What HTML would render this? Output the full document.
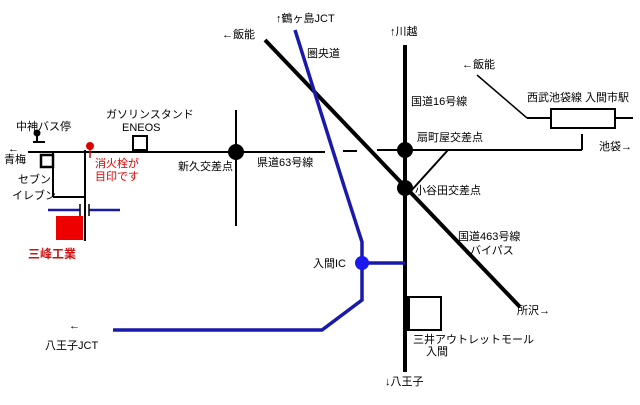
<!DOCTYPE html>
<html><head><meta charset="utf-8"><style>
html,body{margin:0;padding:0;background:#fff}
svg text{font-family:"Liberation Sans","Noto Sans CJK JP",sans-serif;font-size:11px;fill:#000}
</style></head><body>
<svg width="640" height="400" viewBox="0 0 640 400" xmlns="http://www.w3.org/2000/svg">
<rect width="640" height="400" fill="#fff"/>
<g stroke="#000" fill="none">
<line x1="28" y1="152" x2="325" y2="152" stroke-width="2"/>
<line x1="343" y1="151" x2="357" y2="151" stroke-width="2"/>
<line x1="377" y1="150" x2="582" y2="150" stroke-width="2"/>
<line x1="582" y1="134" x2="582" y2="150" stroke-width="2"/>
<line x1="236" y1="110" x2="236" y2="226" stroke-width="2"/>
<line x1="405" y1="45" x2="405" y2="372" stroke-width="4"/>
<line x1="265" y1="40" x2="520" y2="307" stroke-width="4"/>
<line x1="448" y1="150" x2="410" y2="192" stroke-width="2"/>
<line x1="477" y1="75" x2="527" y2="118" stroke-width="1.5"/>
<line x1="527" y1="118" x2="551" y2="118" stroke-width="2"/>
<rect x="551" y="109" width="64" height="19" stroke-width="2"/>
<line x1="615" y1="118" x2="633" y2="118" stroke-width="2"/>
<rect x="408" y="297" width="33" height="33" stroke-width="2"/>
<line x1="408" y1="297" x2="408" y2="330" stroke-width="4"/>
<rect x="133" y="136" width="14" height="14" stroke-width="2"/>
<rect x="41" y="155" width="12" height="12" stroke-width="2.5"/>
<line x1="53" y1="152" x2="53" y2="197" stroke-width="2"/>
<line x1="53" y1="197" x2="85" y2="197" stroke-width="2"/>
<line x1="85" y1="150" x2="85" y2="241" stroke-width="2"/>
<line x1="33" y1="142" x2="45" y2="142" stroke-width="2"/>
<line x1="37" y1="134" x2="37" y2="142" stroke-width="2"/>
</g>
<circle cx="37" cy="133" r="3.5" fill="#000"/>
<circle cx="236" cy="152" r="8" fill="#000"/>
<circle cx="405" cy="150" r="8" fill="#000"/>
<circle cx="405" cy="188" r="8" fill="#000"/>
<g stroke="#1a1aaa" fill="none" stroke-width="3.5">
<polyline points="295,30 344,186 362,242 362,300 322,330 113,330"/>
<line x1="362" y1="263" x2="405" y2="263"/>
<line x1="48" y1="210" x2="80" y2="210" stroke-width="2.5"/>
<line x1="89" y1="210" x2="120" y2="210" stroke-width="2.5"/>
</g>
<circle cx="362" cy="263" r="7" fill="#1a1aee"/>
<line x1="80" y1="204" x2="80" y2="216" stroke="#000" stroke-width="1.5"/>
<line x1="89" y1="204" x2="89" y2="216" stroke="#000" stroke-width="1.5"/>
<rect x="56" y="216" width="27" height="24" fill="#ee0000"/>
<line x1="90" y1="148" x2="90" y2="158" stroke="#dd0000" stroke-width="1.5"/>
<circle cx="90" cy="146" r="4" fill="#dd0000"/>
<text x="16" y="130">中神バス停</text>
<text x="8" y="152">←</text>
<text x="4" y="163" font-size="12">青梅</text>
<text x="18" y="183">セブン</text>
<text x="12" y="199">イレブン</text>
<text x="106" y="118">ガソリンスタンド</text>
<text x="122" y="131">ENEOS</text>
<text x="95" y="167" style="fill:#dd0000">消火栓が</text>
<text x="95" y="180" style="fill:#dd0000">目印です</text>
<text x="28" y="258" style="fill:#cc1111;font-weight:bold;font-size:12px">三峰工業</text>
<text x="178" y="170">新久交差点</text>
<text x="257" y="166" font-size="12">県道63号線</text>
<text x="222" y="38">←飯能</text>
<text x="276" y="22" font-size="12">↑鶴ヶ島JCT</text>
<text x="307" y="57">圏央道</text>
<text x="390" y="35">↑川越</text>
<text x="411" y="105">国道16号線</text>
<text x="417" y="141">扇町屋交差点</text>
<text x="415" y="194" font-size="12">小谷田交差点</text>
<text x="462" y="68">←飯能</text>
<text x="527" y="101">西武池袋線 入間市駅</text>
<text x="599" y="150">池袋→</text>
<text x="458" y="240">国道463号線</text>
<text x="470" y="254">バイパス</text>
<text x="313" y="267">入間IC</text>
<text x="517" y="314">所沢→</text>
<text x="69" y="329">←</text>
<text x="45" y="349">八王子JCT</text>
<text x="413" y="343">三井アウトレットモール</text>
<text x="426" y="355">入間</text>
<text x="385" y="385">↓八王子</text>
</svg>
</body></html>
